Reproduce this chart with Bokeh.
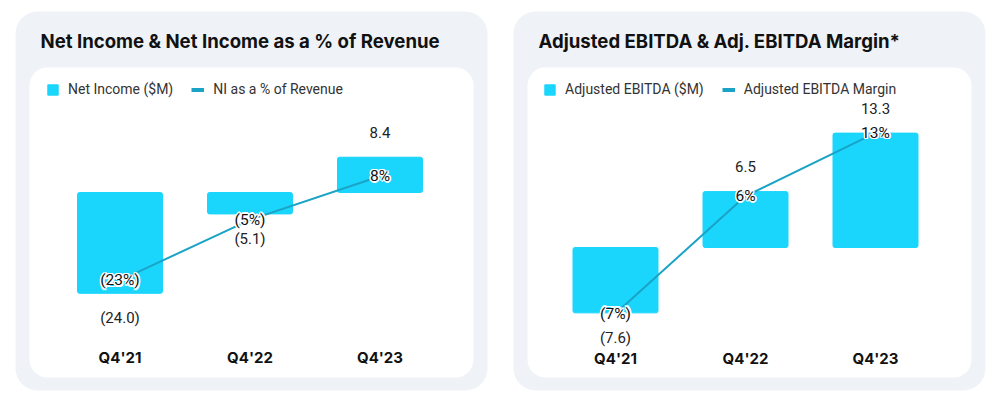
from bokeh.plotting import figure
from bokeh.models import Range1d, BoxAnnotation, Legend, LegendItem, ColumnDataSource
from bokeh.layouts import row
from bokeh.embed import file_html
from bokeh.resources import INLINE
from bokeh.core.properties import value

# ---- data ----
categories = ["Q4'21", "Q4'22", "Q4'23"]
net_income = [-24.0, -5.1, 8.4]
ni_pct = [-23, -5, 8]
adj_ebitda = [-7.6, 6.5, 13.3]
ebitda_margin = [-7, 6, 13]

titles = ["Net Income & Net Income as a % of Revenue", "Adjusted EBITDA & Adj. EBITDA Margin*"]
bar_labels = ["Net Income ($M)", "Adjusted EBITDA ($M)"]
line_labels = ["NI as a % of Revenue", "Adjusted EBITDA Margin"]

# ---- style ----
BAR = "#1AD5FC"
LINE = "#1BA3C6"
PANEL = "#EFF3F8"
H = 396
STEP = 130.0


def fmt_val(v):
    return f"({abs(v):.1f})" if v < 0 else f"{v:.1f}"


def fmt_pct(v):
    return f"({abs(v):.0f}%)" if v < 0 else f"{v:.0f}%"


def make_panel(title, bar_label, line_label, vals, pcts, cfg):
    W = cfg["w"]
    x0, zy, ppu, pzy, pppu = cfg["x0"], cfg["zy"], cfg["ppu"], cfg["pzy"], cfg["pppu"]
    X = lambda fx: (fx - x0) / STEP
    Y = lambda fy: (zy - fy) / ppu

    p = figure(width=W, height=H, output_backend="svg", toolbar_location=None,
               x_range=Range1d(X(0), X(W)), y_range=Range1d(Y(H), Y(0)),
               x_axis_location=None, y_axis_location=None, min_border=0,
               outline_line_color=None, background_fill_color="white",
               border_fill_color="white")
    p.grid.visible = False
    p.extra_y_ranges = {"pct": Range1d((pzy - H) / pppu, pzy / pppu)}

    ox0, ox1 = cfg["outer"]
    ix0, ix1 = cfg["inner"]
    p.add_layout(BoxAnnotation(left=X(ox0), right=X(ox1), top=Y(11), bottom=Y(390),
                               fill_color=PANEL, fill_alpha=1, line_alpha=0,
                               border_radius=22, level="underlay"))
    p.add_layout(BoxAnnotation(left=X(ix0), right=X(ix1), top=Y(67), bottom=Y(377),
                               fill_color="white", fill_alpha=1, line_alpha=0,
                               border_radius=18, level="underlay"))

    xs = list(range(len(categories)))
    src = ColumnDataSource(dict(
        x=xs, cat=categories, v=vals, p=pcts,
        vlab=[fmt_val(v) for v in vals], plab=[fmt_pct(v) for v in pcts],
        voff=[-25 if v > 0 else 25 for v in vals]))

    bars = p.vbar(x="x", top="v", bottom=0, width=85 / STEP, source=src,
                  fill_color=BAR, line_color=BAR, border_radius=2)
    p.line(x="x", y="p", source=src, y_range_name="pct", line_color=LINE, line_width=2)
    # legend-only line (kept outside the visible ranges)
    dummy = p.line(x=[X(-50), X(-40)], y=[Y(-50), Y(-50)], line_color=LINE, line_width=4)

    # value labels
    p.text(x="x", y="v", text="vlab", source=src, y_offset="voff",
           text_align="center", text_baseline="middle", text_font=value("Roboto"),
           text_font_size="15px", text_color="#222222")

    # pct labels with white halo
    for dx, dy in [(-1.5, 0), (1.5, 0), (0, -1.5), (0, 1.5), (-1.2, -1.2), (1.2, 1.2), (-1.2, 1.2), (1.2, -1.2)]:
        p.text(x="x", y="p", text="plab", source=src, y_range_name="pct",
               x_offset=dx, y_offset=dy, text_align="center", text_baseline="middle",
               text_font=value("Roboto"), text_font_size="15.5px", text_color="white")
    p.text(x="x", y="p", text="plab", source=src, y_range_name="pct",
           text_align="center", text_baseline="middle", text_font=value("Roboto"),
           text_font_size="15.5px", text_color="#111111")

    # category labels
    p.text(x="x", y=Y(cfg["caty"]), text="cat", source=src, text_align="center",
           text_baseline="middle", text_font=value("Inter"), text_font_style="bold",
           text_font_size="15px", text_color="#111111")

    # title
    p.text(x=[X(cfg["tx"])], y=[Y(40)], text=[title], text_align="left",
           text_baseline="middle", text_font=value("Inter"), text_font_style="bold",
           text_font_size="18.6px", text_color="#111111")

    legend = Legend(items=[LegendItem(label=bar_label, renderers=[bars]),
                           LegendItem(label=line_label, renderers=[dummy])],
                    orientation="horizontal", location=(cfg["lx"], 299),
                    glyph_width=13, glyph_height=13, label_standoff=9, spacing=18,
                    padding=0, margin=0, border_line_alpha=0, background_fill_alpha=0,
                    label_text_font="Roboto", label_text_font_size="14px",
                    label_text_color="#333333", label_height=13)
    p.add_layout(legend)
    return p


cfg_left = dict(w=492, x0=119.5, zy=192, ppu=4.2, pzy=202.6, pppu=3.357,
                outer=(15, 487), inner=(29, 473), caty=357, tx=40, lx=46)
cfg_right = dict(w=500, x0=123, zy=247, ppu=8.6, pzy=249.8, pppu=9.04,
                 outer=(21, 493), inner=(35, 479), caty=358, tx=46, lx=51)

p1 = make_panel(titles[0], bar_labels[0], line_labels[0], net_income, ni_pct, cfg_left)
p2 = make_panel(titles[1], bar_labels[1], line_labels[1], adj_ebitda, ebitda_margin, cfg_right)

layout = row(p1, p2)
open("out.html", "w").write(file_html(layout, INLINE))
